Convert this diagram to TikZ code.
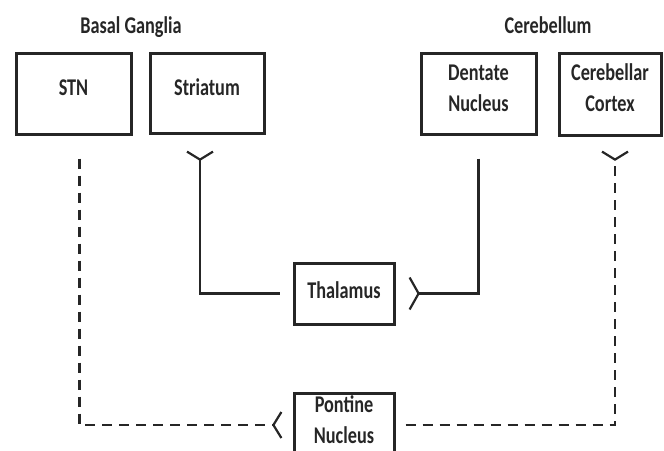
\documentclass[tikz,border=0pt]{standalone}
\usepackage{fontspec}
\setmainfont{Carlito}[FakeStretch=0.76]
\usetikzlibrary{arrows.meta}
\newcommand\liftx[2]{\raisebox{#1}[\height][\depth]{\begin{tabular}{@{}c@{}}#2\end{tabular}}}
\begin{document}
\begin{tikzpicture}[x=1pt,y=-1pt,
  every node/.style={font=\fontsize{24}{31}\selectfont\bfseries, text=black!85},
  box/.style={draw=black!85, line width=3pt, align=center, inner sep=0pt},
  conn/.style={draw=black!85, line width=2.2pt},
  fork/.style={conn, -{Straight Barb[reversed,length=8pt,width=26pt,line width=2.2pt]}},
  bigfork/.style={conn, -{Straight Barb[reversed,length=9pt,width=32pt,line width=2.2pt]}},
  dline/.style={dash pattern=on 10pt off 7pt}]
\useasboundingbox (0,0) rectangle (664,450);
\node (bg) at (131,27) {Basal Ganglia};
\node (cb) at (548,25) {Cerebellum};
\node[box, minimum width=115pt, minimum height=81pt] (stn) at (73.5,93.5) {\liftx{4pt}{STN}};
\node[box, minimum width=114pt, minimum height=80pt] (str) at (207,93) {\liftx{4pt}{Striatum}};
\node[box, minimum width=115pt, minimum height=81pt] (den) at (478.5,93.5) {\liftx{4pt}{Dentate\\Nucleus}};
\node[box, minimum width=102pt, minimum height=82pt] (cc) at (610,94) {\liftx{4pt}{Cerebellar\\Cortex}};
\node[box, minimum width=100pt, minimum height=61pt] (thal) at (344,293.5) {\liftx{1pt}{Thalamus}};
\node[box, minimum width=100pt, minimum height=64pt] (pon) at (344,425) {\liftx{3pt}{Pontine\\Nucleus}};
% solid connectors
\draw[fork] ([xshift=-13pt]thal.west) -| ([xshift=-7pt,yshift=-16pt]str.south);
\draw[bigfork] ([yshift=-23pt]den.south) |- ([xshift=13pt]thal.east);
% dashed connectors
\draw[fork, dline] ([xshift=6pt,yshift=-23pt]stn.south) |- ([xshift=-10pt]pon.west);
\draw[fork, dline] ([xshift=10pt]pon.east) -| ([xshift=5pt,yshift=-14pt]cc.south);
\end{tikzpicture}
\end{document}
